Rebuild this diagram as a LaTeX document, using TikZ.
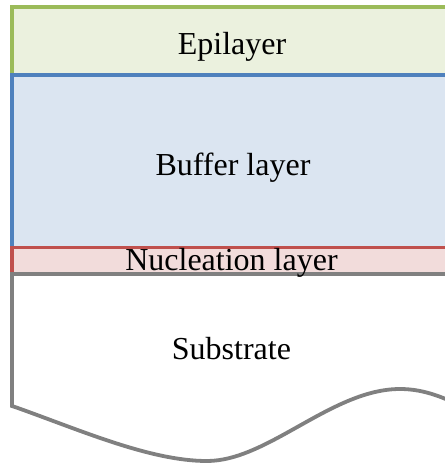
\documentclass[tikz,border=0pt]{standalone}
\usepackage{fontspec}
\setmainfont{Liberation Serif}
\definecolor{epiline}{HTML}{9BBB59}
\definecolor{epifill}{HTML}{EBF1DE}
\definecolor{bufline}{HTML}{4F81BD}
\definecolor{buffill}{HTML}{DBE5F1}
\definecolor{nucline}{HTML}{C0504D}
\definecolor{nucfill}{HTML}{F2DCDB}
\definecolor{subline}{HTML}{808080}
\begin{document}
\begin{tikzpicture}[x=1pt,y=-1pt,
  layer/.style={line width=3.8pt},
  lbl/.style={anchor=base, inner sep=0pt, font=\fontsize{32}{38}\selectfont}]
\useasboundingbox (0,0) rectangle (445,464);
\clip (0,0) rectangle (445,464);
\path[layer, draw=epiline, fill=epifill] (12,7) rectangle (460,75);
\path[layer, draw=bufline, fill=buffill] (12,75) rectangle (460,247.5);
\path[layer, draw=nucline, fill=nucfill] (12,247.5) rectangle (460,274);
\path[layer, draw=subline, fill=white] (460,274) -- (12,274) -- (12,406)
  -- (15,407) .. controls (80,430) and (150,461) .. (207,461)
  .. controls (268,461) and (332,389) .. (400,389)
  .. controls (425,389) and (445,398) .. (470,410) -- cycle;
\node[lbl] (epi) at (232,54) {Epilayer};
\node[lbl] (buf) at (233,175) {Buffer layer};
\node[lbl] (nuc) at (231.5,270) {Nucleation layer};
\node[lbl] (sub) at (231.5,359) {Substrate};
\end{tikzpicture}
\end{document}
